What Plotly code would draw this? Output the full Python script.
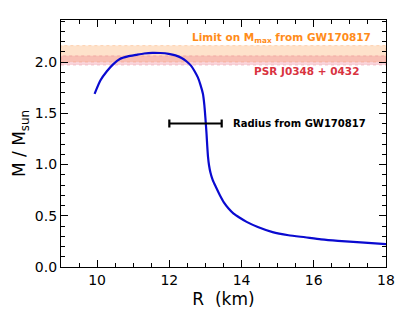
import plotly.graph_objects as go

# mass-radius curve
radius_km = [9.93, 10.09, 10.27, 10.45, 10.63, 10.85, 11.08, 11.30, 11.53, 11.75, 11.98, 12.17,
             12.34, 12.48, 12.61, 12.70, 12.79, 12.86, 12.93, 12.97, 13.00, 13.03, 13.05, 13.07,
             13.10, 13.14, 13.20, 13.29, 13.40, 13.51, 13.64, 13.78, 13.95, 14.14, 14.45,
             14.86, 15.30, 15.76, 16.20, 16.67, 17.30, 18.00]
mass_msun = [1.69, 1.82, 1.91, 1.98, 2.03, 2.055, 2.07, 2.083, 2.09, 2.088, 2.08, 2.065,
             2.04, 2.005, 1.96, 1.91, 1.85, 1.78, 1.69, 1.58, 1.45, 1.30, 1.18, 1.08,
             0.99, 0.92, 0.85, 0.78, 0.70, 0.63, 0.57, 0.52, 0.48, 0.44, 0.39,
             0.34, 0.31, 0.29, 0.27, 0.255, 0.24, 0.223]

# horizontal bands (M/Msun)
gw_mmax_band = [2.00, 2.16]
psr_band = [1.97, 2.06]

# radius constraint from GW170817 at M = 1.4
radius_range = [12.0, 13.45]
radius_mass = 1.4

fig = go.Figure()

fig.add_shape(type="rect", xref="paper", x0=0, x1=1, y0=gw_mmax_band[0], y1=gw_mmax_band[1],
              fillcolor="rgba(253,185,130,0.42)", line=dict(color="rgba(250,160,90,0.45)", width=0.8, dash="dot"),
              layer="below")
fig.add_shape(type="rect", xref="paper", x0=0, x1=1, y0=psr_band[0], y1=psr_band[1],
              fillcolor="rgba(235,110,130,0.3)", line=dict(color="rgba(220,90,110,0.35)", width=0.8, dash="dot"),
              layer="below")

fig.add_trace(go.Scatter(x=radius_km, y=mass_msun, mode="lines", line=dict(color="#0a0ad0", width=2.2),
                         line_shape="spline", line_smoothing=0.6, showlegend=False))

center = (radius_range[0] + radius_range[1]) / 2
half = (radius_range[1] - radius_range[0]) / 2
fig.add_trace(go.Scatter(x=[center], y=[radius_mass], mode="markers", marker=dict(size=1, color="black"),
                         error_x=dict(type="constant", value=half, color="black", thickness=2.2, width=4),
                         showlegend=False))

fig.add_annotation(x=17.65, y=2.235, text="<b>Limit on M<sub>max</sub> from GW170817</b>", showarrow=False,
                   xanchor="right", font=dict(color="#ff8c1a", size=10.5))
fig.add_annotation(x=17.3, y=1.91, text="<b>PSR J0348 + 0432</b>", showarrow=False,
                   xanchor="right", font=dict(color="#d9333f", size=10.5))
fig.add_annotation(x=13.72, y=1.40, text="<b>Radius from GW170817</b>", showarrow=False,
                   xanchor="left", font=dict(color="black", size=10))

axis_common = dict(showline=True, linecolor="black", linewidth=1.3, mirror="allticks", ticks="inside",
                   tickcolor="black", tickwidth=1, ticklen=7, showgrid=False, zeroline=False,
                   tickfont=dict(size=14, color="black"))

fig.update_xaxes(range=[9, 18], tickvals=[10, 12, 14, 16, 18],
                 minor=dict(dtick=0.5, ticks="inside", ticklen=4, tickcolor="black", showgrid=False),
                 title=dict(text="R  (km)", font=dict(size=17, color="black"), standoff=6), **axis_common)
fig.update_yaxes(range=[0, 2.41], tickvals=[0, 0.5, 1.0, 1.5, 2.0], tickformat=".1f",
                 minor=dict(dtick=0.1, ticks="inside", ticklen=4, tickcolor="black", showgrid=False),
                 title=dict(text="M / M<sub>sun</sub>", font=dict(size=17, color="black"), standoff=4),
                 **axis_common)

# page body adds an 8px offset, so margins are shifted to compensate
fig.update_layout(width=407, height=326, plot_bgcolor="white", paper_bgcolor="white",
                  font=dict(family="DejaVu Sans", color="black"),
                  margin=dict(l=45, r=29, t=11, b=67))

fig.write_html("out.html")
